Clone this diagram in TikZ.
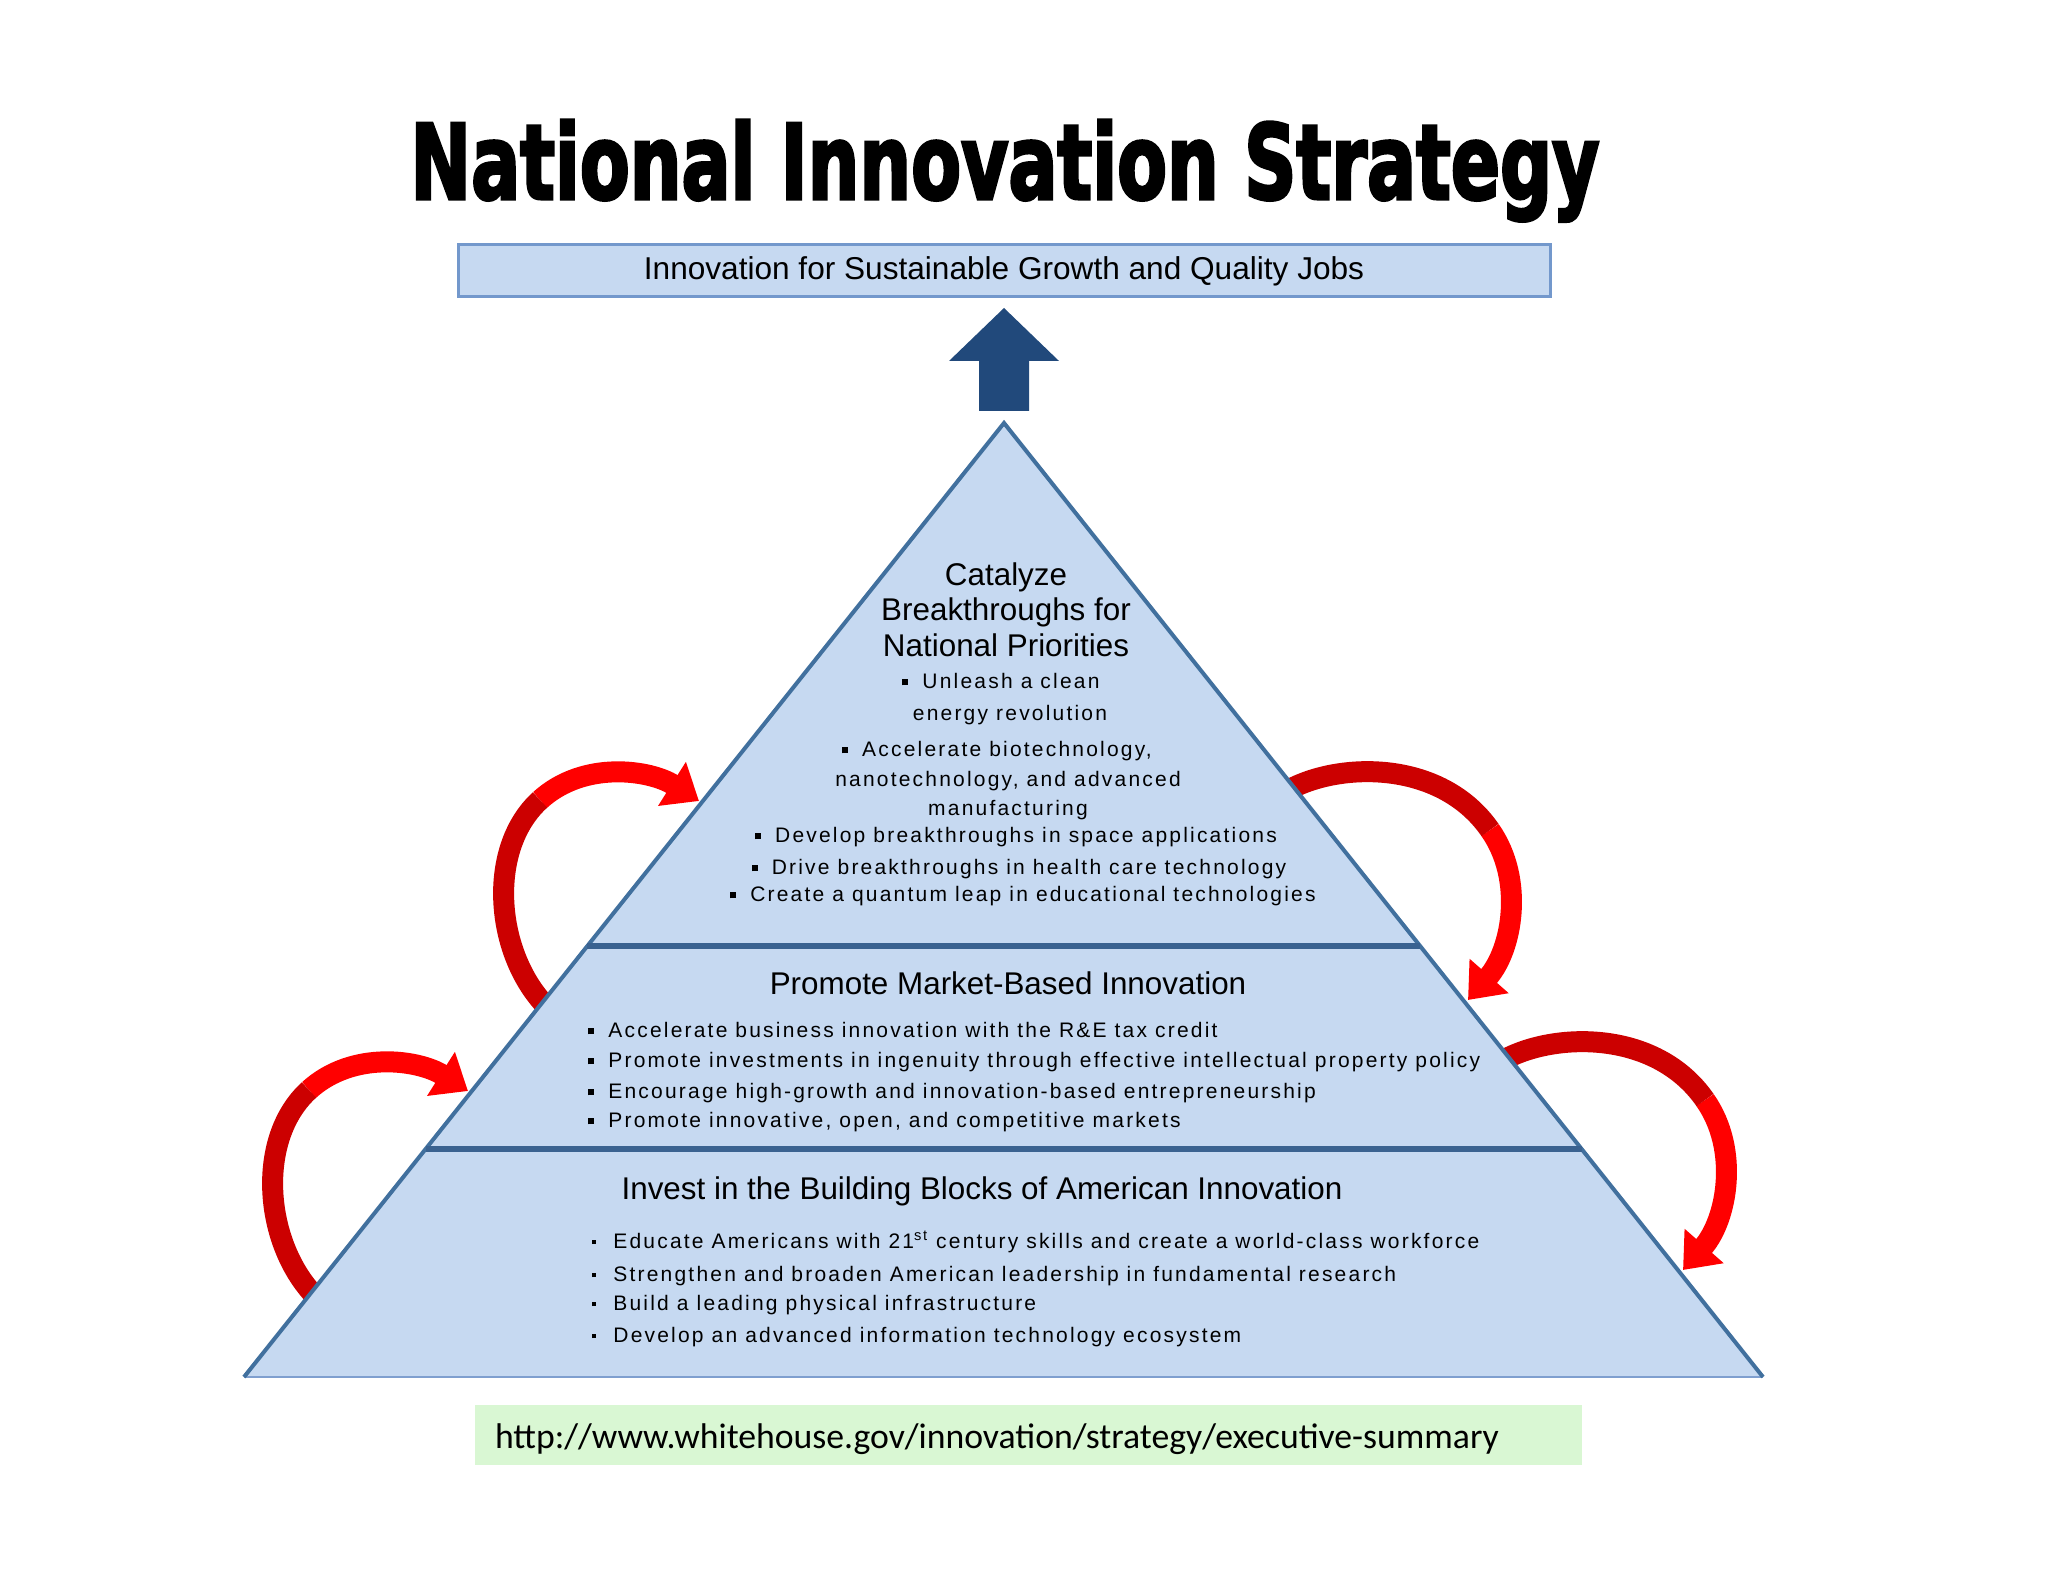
\documentclass[tikz,border=0pt]{standalone}
\usepackage{fontspec}
\usepackage{graphicx}
\setmainfont{Liberation Sans}
\newfontfamily\titlefont[FakeBold=3]{DejaVu Sans Condensed Bold}
\newfontfamily\urlfont{Carlito}
\newfontfamily\bulletfont[LetterSpace=10.5]{Liberation Sans}
\usetikzlibrary{arrows.meta}
\definecolor{pyrfill}{HTML}{C6D9F1}
\definecolor{pyredge}{HTML}{41709E}
\definecolor{divcol}{HTML}{3A6290}
\definecolor{baseedge}{HTML}{7F9FCF}
\definecolor{boxedge}{HTML}{7398CC}
\definecolor{darrow}{HTML}{21497B}
\definecolor{urlfill}{HTML}{D9F7D3}
\definecolor{redA}{HTML}{FF0000}
\definecolor{redB}{HTML}{CC0000}
\newcommand\sqb{\rule[1.3pt]{3pt}{3pt}\hspace{7pt}}
\newcommand\dotb{\makebox[10.5pt][l]{\rule[2pt]{2pt}{2pt}}}
\begin{document}
\begin{tikzpicture}[x=0.5pt,y=-0.5pt,
  hdr/.style={anchor=base, inner sep=0pt, font=\fontsize{15.7}{18}\selectfont},
  bul/.style={anchor=base, inner sep=0pt, font=\bulletfont\fontsize{10.5}{12}\selectfont},
  bulw/.style={bul, anchor=base west},
  redhead/.style={line width=10.5pt, draw=redA, -{Triangle[length=16pt,width=25pt]}},
  redtail/.style={line width=10.5pt, draw=redB},
  edgeline/.style={draw=pyredge, line width=2pt, line join=miter},
  divider/.style={draw=divcol, line width=2.6pt},
  goalbox/.style={draw=boxedge, fill=pyrfill, line width=1.5pt, minimum width=546pt, minimum height=26pt, inner sep=0pt, font=\fontsize{15.8}{18}\selectfont},
  urlbox/.style={fill=urlfill, minimum width=553.5pt, minimum height=30pt, text width=533.5pt, text height=16pt, text depth=2.8pt, inner xsep=10pt, inner ysep=0pt, align=left, font=\urlfont\fontsize{17.85}{20}\selectfont}
]
\useasboundingbox (0,0) rectangle (2048,1582);
\fill[white] (0,0) rectangle (2048,1582);

% title
\node[anchor=base, inner sep=0pt] (title) at (1005,199)
  {\resizebox{594.5pt}{39.5pt}{\titlefont National Innovation Strategy}};

% goal box
\node[goalbox] (goal) at (1004,271) {Innovation for Sustainable Growth and Quality Jobs};

% blue up arrow
\fill[darrow] (1004,308) -- (1059,361) -- (1029,361) -- (1029,411) -- (979,411) -- (979,361) -- (949,361) -- cycle;

% red arrows endpoints
\coordinate (ul-s) at (552,1012); \coordinate (ul-m) at (540,800); \coordinate (ul-e) at (699,801);
\coordinate (ll-s) at (321,1302); \coordinate (ll-m) at (309,1090); \coordinate (ll-e) at (468,1091);
\coordinate (ur-s) at (1285,792); \coordinate (ur-m) at (1490,830); \coordinate (ur-e) at (1468,1000);
\coordinate (lr-s) at (1500,1062); \coordinate (lr-m) at (1705,1100); \coordinate (lr-e) at (1683,1270);

\draw[redhead] (ul-m) .. controls (584,760) and (650,770) .. (ul-e);
\draw[redtail] (ul-s) .. controls (495,960) and (485,850) .. (ul-m);
\draw[redhead] (ll-m) .. controls (353,1050) and (419,1060) .. (ll-e);
\draw[redtail] (ll-s) .. controls (264,1250) and (254,1140) .. (ll-m);
\draw[redhead] (ur-m) .. controls (1525,880) and (1512,950) .. (ur-e);
\draw[redtail] (ur-s) .. controls (1335,762) and (1440,758) .. (ur-m);
\draw[redhead] (lr-m) .. controls (1740,1150) and (1727,1220) .. (lr-e);
\draw[redtail] (lr-s) .. controls (1550,1032) and (1655,1028) .. (lr-m);

% pyramid
\coordinate (apex) at (1004,423);
\coordinate (bl) at (244,1377);
\coordinate (br) at (1763,1377);
\coordinate (d1l) at (587,946); \coordinate (d1r) at (1420,946);
\coordinate (d2l) at (426,1149); \coordinate (d2r) at (1582,1149);
\fill[pyrfill] (apex) -- (bl) -- (br) -- cycle;
\draw[baseedge, line width=1pt] (bl) -- (br);
\draw[edgeline] (bl) -- (apex) -- (br);
\draw[divider] (d1l) -- (d1r);
\draw[divider] (d2l) -- (d2r);

% top tier
\node[hdr] (t1a) at (1006,586) {Catalyze};
\node[hdr] (t1b) at (1006,620) {Breakthroughs for};
\node[hdr] (t1c) at (1006,656) {National Priorities};
\node[bul] (t1d) at (1001,688) {\sqb Unleash a clean};
\node[bul] (t1e) at (1010,720) {energy revolution};
\node[bul] (t1f) at (997,756) {\sqb Accelerate biotechnology,};
\node[bul] (t1g) at (1008,786) {nanotechnology, and advanced};
\node[bul] (t1h) at (1008,815) {manufacturing};
\node[bul] (t1i) at (1016,842) {\sqb Develop breakthroughs in space applications};
\node[bul] (t1j) at (1019,874) {\sqb Drive breakthroughs in health care technology};
\node[bul] (t1k) at (1023,901) {\sqb Create a quantum leap in educational technologies};

% middle tier
\node[hdr] (t2a) at (1008,994) {Promote Market-Based Innovation};
\node[bulw] (t2b) at (588,1037) {\sqb Accelerate business innovation with the R\&E tax credit};
\node[bulw] (t2c) at (588,1067) {\sqb Promote investments in ingenuity through effective intellectual property policy};
\node[bulw] (t2d) at (588,1098) {\sqb Encourage high-growth and innovation-based entrepreneurship};
\node[bulw] (t2e) at (588,1127) {\sqb Promote innovative, open, and competitive markets};

% bottom tier
\node[hdr] (t3a) at (982,1199) {Invest in the Building Blocks of American Innovation};
\node[bulw] (t3b) at (592,1248) {\dotb Educate Americans with 21\textsuperscript{st} century skills and create a world-class workforce};
\node[bulw] (t3c) at (592,1281) {\dotb Strengthen and broaden American leadership in fundamental research};
\node[bulw] (t3d) at (592,1310) {\dotb Build a leading physical infrastructure};
\node[bulw] (t3e) at (592,1342) {\dotb Develop an advanced information technology ecosystem};

% url
\node[urlbox] (url) at (1028.5,1435) {http://www.whitehouse.gov/innovation/strategy/executive-summary};
\end{tikzpicture}
\end{document}
